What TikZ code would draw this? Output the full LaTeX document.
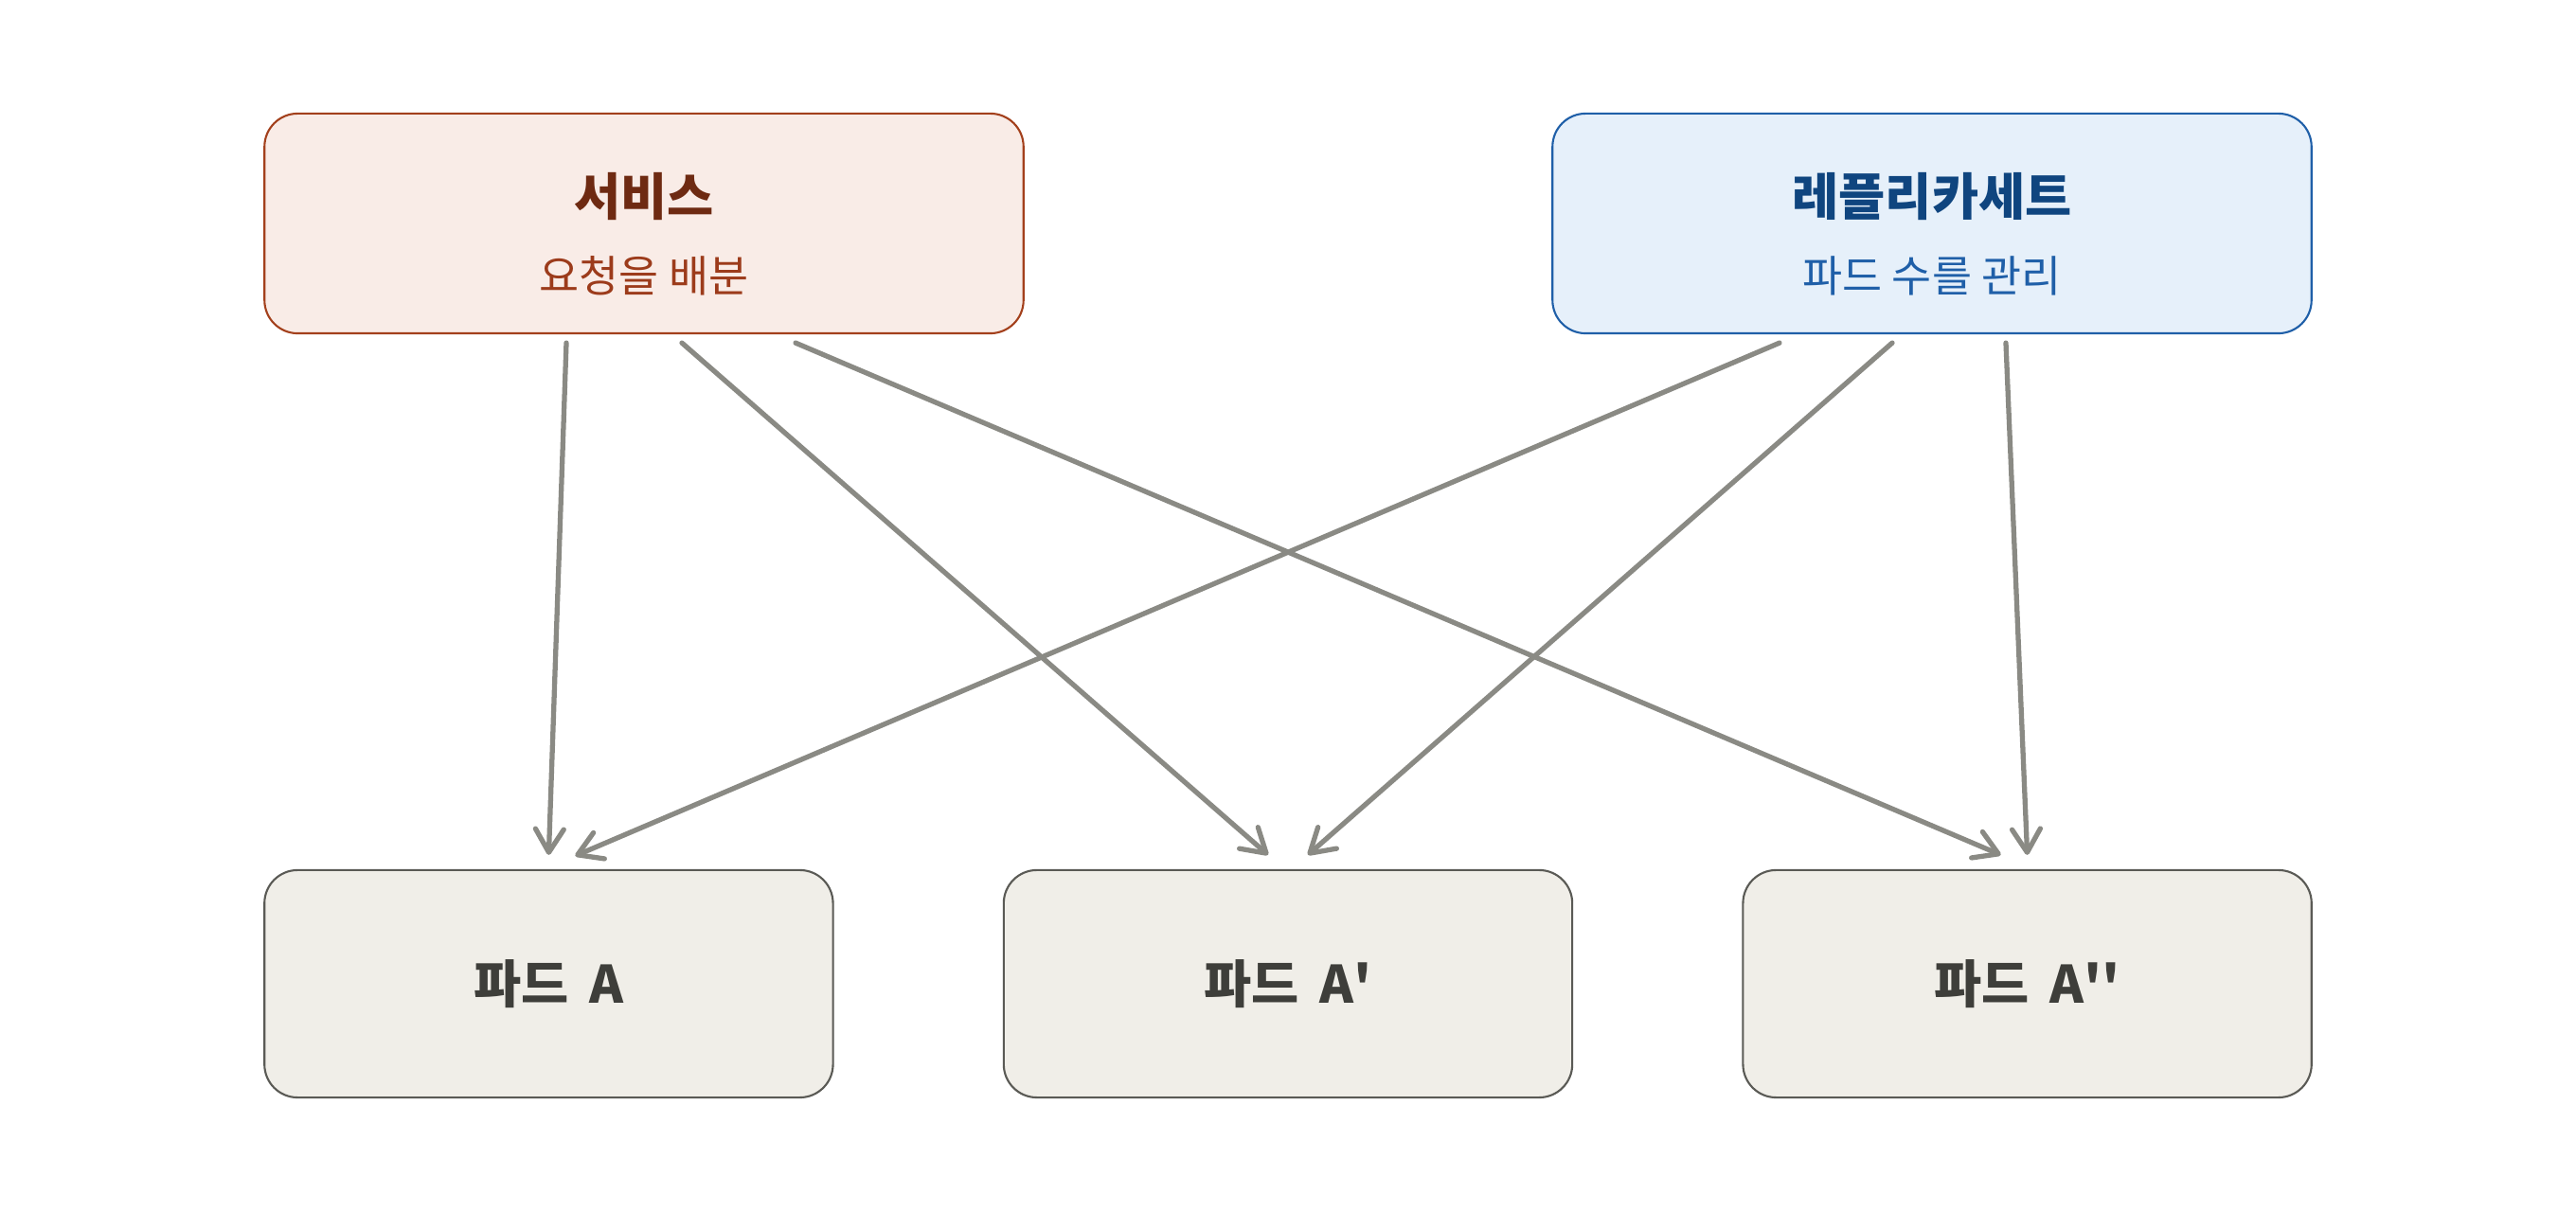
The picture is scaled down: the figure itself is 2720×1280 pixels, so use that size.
\documentclass[tikz,border=0pt]{standalone}
\usepackage{fontspec}
\setmainfont{Noto Sans CJK KR}
\usetikzlibrary{arrows.meta,calc}
\definecolor{svcfill}{HTML}{F9ECE7}
\definecolor{svcdraw}{HTML}{A3401C}
\definecolor{svctitle}{HTML}{6E2A12}
\definecolor{svcsub}{HTML}{9C3B1B}
\definecolor{rsfill}{HTML}{E6F0FA}
\definecolor{rsdraw}{HTML}{1F5FA8}
\definecolor{rstitle}{HTML}{0F457F}
\definecolor{rssub}{HTML}{1F5FA8}
\definecolor{podfill}{HTML}{F0EEE8}
\definecolor{poddraw}{HTML}{5A5A55}
\definecolor{podtext}{HTML}{3E3E3A}
\definecolor{arrowgray}{HTML}{8A8A84}
\tikzset{
  box/.style={rectangle, rounded corners=0.35cm, line width=0.6pt, inner sep=0pt},
  topbox/.style={box, minimum width=8.01cm, minimum height=2.32cm},
  podbox/.style={box, fill=podfill, draw=poddraw, minimum width=6.0cm, minimum height=2.4cm,
    text=podtext, font=\fontsize{15.5}{18}\selectfont\bfseries},
  ttl/.style={font=\fontsize{15.2}{18}\selectfont\bfseries, inner sep=0pt},
  sub/.style={font=\fontsize{13}{16}\selectfont, inner sep=0pt},
  conn/.style={draw=arrowgray, line width=1.5pt, line cap=round,
    -{Straight Barb[length=7pt, width=8.5pt, line cap=round, line join=round]}},
}
\begin{document}
\begin{tikzpicture}[x=0.01cm, y=-0.01cm]
\useasboundingbox (0,0) rectangle (2720,1280);
\node[topbox, fill=svcfill, draw=svcdraw] (svc) at (680,236) {};
\node[ttl, text=svctitle] (svcT) at (680,208) {서비스};
\node[sub, text=svcsub] (svcS) at (680,291) {요청을 배분};
\node[topbox, fill=rsfill, draw=rsdraw] (rs) at (2040,236) {};
\node[ttl, text=rstitle] (rsT) at (2040,208) {레플리카세트};
\node[sub, text=rssub] (rsS) at (2040,291) {파드 수를 관리};
\node[podbox] (podA) at (579.4,1039) {파드\hspace{0.4em}A};
\node[podbox] (podB) at (1360,1039) {파드\hspace{0.4em}A\textquotesingle};
\node[podbox] (podC) at (2140.6,1039) {파드\hspace{0.4em}A\textquotesingle\textquotesingle};
\coordinate (s1) at ($(svc.south)+(-82,9)$);
\coordinate (s2) at ($(svc.south)+(40,9)$);
\coordinate (s3) at ($(svc.south)+(160,9)$);
\coordinate (r1) at ($(rs.south)+(-161,9)$);
\coordinate (r2) at ($(rs.south)+(-42,9)$);
\coordinate (r3) at ($(rs.south)+(78,9)$);
\coordinate (a1) at ($(podA.north)+(0,-15)$);
\coordinate (a2) at ($(podA.north)+(28,-14)$);
\coordinate (b1) at ($(podB.north)+(-21,-15)$);
\coordinate (b2) at ($(podB.north)+(21,-15)$);
\coordinate (c1) at ($(podC.north)+(-28,-15)$);
\coordinate (c2) at ($(podC.north)+(0,-15)$);
\draw[conn] (s1) -- (a1);
\draw[conn] (s2) -- (b1);
\draw[conn] (s3) -- (c1);
\draw[conn] (r1) -- (a2);
\draw[conn] (r2) -- (b2);
\draw[conn] (r3) -- (c2);
\end{tikzpicture}
\end{document}
